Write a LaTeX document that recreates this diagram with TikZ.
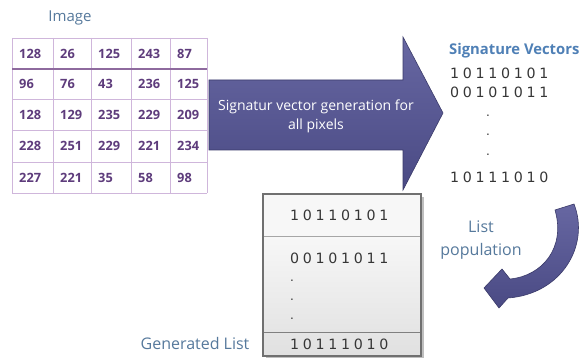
\documentclass[tikz,border=0pt]{standalone}
\usepackage{fontspec}
\setmainfont{Open Sans}
\newfontfamily\bitfont{DejaVu Sans}
\definecolor{gridline}{HTML}{CFB6DB}
\definecolor{gridstrong}{HTML}{8E6A9E}
\definecolor{cellnum}{HTML}{5E3C7C}
\definecolor{labelblue}{HTML}{56799C}
\definecolor{titleblue}{HTML}{4F80B6}
\definecolor{arrowtop}{HTML}{6767A2}
\definecolor{arrowbot}{HTML}{4A4A84}
\definecolor{bitgray}{HTML}{363636}
\definecolor{boxedge}{HTML}{707070}
% spaced-out bit strings
\def\bitrow#1{\bitrowi#1\relax}
\def\bitrowi#1{\ifx#1\relax\else#1\kern3.7pt\expandafter\bitrowi\fi}
\tikzset{
  cellnum/.style={anchor=west, inner sep=0pt, font=\fontsize{12.8}{14}\selectfont\bfseries, text=cellnum},
  caption/.style={inner sep=0pt, font=\fontsize{15}{19}\selectfont, text=labelblue},
  bigcaption/.style={caption, font=\fontsize{16}{23}\selectfont},
  bits/.style={anchor=west, inner sep=0pt, font=\bitfont\fontsize{14.2}{15}\selectfont, text=bitgray},
  bitdot/.style={inner sep=0pt, font=\bitfont\fontsize{12}{14}\selectfont, text=bitgray},
  bigarrow/.style={top color=arrowtop, bottom color=arrowbot, draw=arrowbot!80!black, line width=0.6pt},
}
\begin{document}
\begin{tikzpicture}[x=1pt,y=-1pt]
\useasboundingbox (0,0) rectangle (583,358);
\fill[white] (0,0) rectangle (583,358);

% caption over the pixel grid
\node[caption] (imgcap) at (70,18) {Image};

% pixel grid
\def\colx{{12,53,91,131,170,207}}
\foreach \x in {12,53,91,131,170,207} \draw[gridline, line width=0.8pt] (\x,38) -- (\x,193);
\foreach \y in {38,99,130,162,193} \draw[gridline, line width=0.8pt] (12,\y) -- (207,\y);
\draw[gridstrong, line width=1.2pt] (12,69) -- (207,69);
\foreach \row/\cy [count=\r from 0] in {{128,26,125,243,87}/53.5,{96,76,43,236,125}/84,{128,129,235,229,209}/114.5,{228,251,229,221,234}/146,{227,221,35,58,98}/177.5} {
  \foreach \v [count=\c from 0] in \row {
    \pgfmathsetmacro\cx{\colx[\c]+7}
    \node[cellnum] (cell-\r-\c) at (\cx,\cy) {\v};
  }
}

% block arrow: signature generation
\path[bigarrow] (209,80) -- (403,80) -- (403,37) -- (443,113) -- (403,190) -- (403,150) -- (209,150) -- cycle;
\node[inner sep=0pt, align=center, text=white, font=\fontsize{14}{19}\selectfont] (gen) at (316,116)
  {Signatur vector generation for\\all pixels};

% signature vectors
\node[anchor=west, inner sep=0pt, text=titleblue, font=\fontsize{14.8}{16}\selectfont\bfseries] (sigtitle) at (449,51) {Signature Vectors};
\node[bits] (sv1) at (450,73) {\bitrow{10110101}};
\node[bits] (sv2) at (450,92) {\bitrow{00101011}};
\node[bitdot] (svd1) at (488,116) {.};
\node[bitdot] (svd2) at (488,135) {.};
\node[bitdot] (svd3) at (488,155) {.};
\node[bits] (svn) at (450,177) {\bitrow{10111010}};

% generated list box
\fill[black!25] (266,197) rectangle (424,359);
\shade[top color=white, bottom color=black!12] (263,194) rectangle (421,356);
\fill[white!97!black] (264,195) rectangle (420,236);
\draw[black!35, line width=0.8pt] (263,236) -- (421,236);
\draw[black!50, line width=0.8pt] (263,332) -- (421,332);
\draw[boxedge, line width=2.6pt] (263,194) rectangle (421,356);
\node[bits] (l1) at (290,215) {\bitrow{10110101}};
\node[bits] (l2) at (290,258) {\bitrow{00101011}};
\node[bitdot] (ld1) at (292,281) {.};
\node[bitdot] (ld2) at (292,300) {.};
\node[bitdot] (ld3) at (292,319) {.};
\node[bits] (ln) at (290,344) {\bitrow{10111010}};
\node[bigcaption] (gencap) at (195,343) {Generated List};

% curved arrow: list population
\path[bigarrow] (555,210) -- (574,204) .. controls (590,245) and (562,294) .. (508,298)
  -- (499,308) -- (484,288) -- (502,269) -- (510,279)
  .. controls (542,276) and (566,248) .. (555,210) -- cycle;
\node[bigcaption, align=center] (popcap) at (481,240) {List\\population};
\end{tikzpicture}
\end{document}
